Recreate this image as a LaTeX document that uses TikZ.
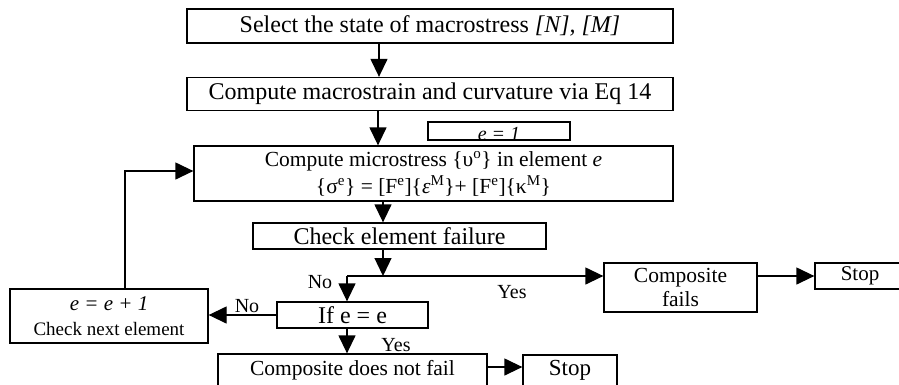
\documentclass[tikz,border=0pt]{standalone}
\usepackage{fontspec}
\setmainfont{Liberation Serif}
\usetikzlibrary{arrows.meta}
\begin{document}
\begin{tikzpicture}[x=1pt,y=-1pt,
  box/.style={draw, line width=1.3pt, inner sep=0pt, align=center, font=\fontsize{24}{26}\selectfont},
  arr/.style={line width=1.3pt, -{Triangle[length=18pt,width=17pt]}},
  ln/.style={line width=1.3pt},
  lbl/.style={font=\fontsize{20}{22}\selectfont, inner sep=0pt}]
\useasboundingbox (0,0) rectangle (899,384);
% boxes
\node[box, minimum width=486pt, minimum height=34pt] (b1) at (430,26) {Select the state of macrostress \textit{[N], [M]}};
\node[box, minimum width=486pt, minimum height=33pt] (b2) at (430,94) {Compute macrostrain and curvature via Eq 14};
\node[box, minimum width=142pt, minimum height=18pt, font=\fontsize{20}{22}\selectfont] (e1) at (499,131) {};
\begin{scope}
  \clip (e1.north west) rectangle (e1.south east);
  \node[inner sep=0pt, font=\fontsize{20}{22}\selectfont, anchor=base] (e1t) at (499,140) {\textit{e = 1}};
\end{scope}
\node[box, minimum width=142pt, minimum height=18pt] (e1b) at (e1) {};
\node[box, minimum width=479pt, minimum height=55pt, font=\fontsize{21.5}{27}\selectfont] (b3) at (433.5,173.5)
  {Compute microstress \{υ\textsuperscript{o}\} in element \textit{e}\\
   \{σ\textsuperscript{e}\} = [F\textsuperscript{e}]\{\textit{ε}\textsuperscript{M}\}+ [F\textsuperscript{e}]\{κ\textsuperscript{M}\}};
\node[box, minimum width=293pt, minimum height=26pt] (b4) at (399.5,236) {Check element failure};
\node[box, minimum width=153pt, minimum height=49pt, font=\fontsize{21.5}{24}\selectfont] (cf) at (680.5,287.5) {Composite\\fails};
\node[box, minimum width=90pt, minimum height=26pt, font=\fontsize{21}{24}\selectfont] (s1) at (860,276) {Stop};
\node[box, minimum width=151pt, minimum height=26pt] (if) at (352.5,315) {If e = e};
\node[box, minimum width=198pt, minimum height=54pt] (ee) at (109,316)
  {{\fontsize{21}{22}\selectfont\textit{e = e + 1}}\\[-1pt]{\fontsize{19}{20}\selectfont Check next element}};
\node[box, minimum width=269pt, minimum height=32pt, font=\fontsize{21.5}{24}\selectfont] (cd) at (352.5,370) {Composite does not fail};
\node[box, minimum width=94pt, minimum height=31pt, font=\fontsize{23}{24}\selectfont] (s2) at (570,370.5) {Stop};
% helper coordinates
\coordinate (xa) at (379,0);
\coordinate (xb) at (378,0);
\coordinate (xc) at (383,0);
\coordinate (j) at (383,276);
\coordinate (k) at (347,276);
\coordinate (xk) at (347,0);
\coordinate (up) at (125,171);
\coordinate (y1) at (0,276);
\coordinate (y2) at (0,367);
% connectors
\draw[arr] (b1.south -| xa) -- (b2.north -| xa);
\draw[arr] (b2.south -| xb) -- (b3.north -| xb);
\draw[arr] (b3.south -| xc) -- (b4.north -| xc);
\draw[arr] (b4.south -| xc) -- (j);
\draw[arr] (k) -- (cf.west |- y1);
\draw[arr] (k) -- (if.north -| xk);
\draw[arr] (cf.east |- y1) -- (s1.west |- y1);
\draw[arr] (if.west) -- (ee.east |- if.west);
\draw[arr] (ee.north -| up) -- (up) -- (b3.west |- up);
\draw[arr] (if.south -| xk) -- (cd.north -| xk);
\draw[arr] (cd.east |- y2) -- (s2.west |- y2);
% labels
\node[lbl] (no1) at (320,282) {No};
\node[lbl] (yes1) at (512,292) {Yes};
\node[lbl] (no2) at (247,306) {No};
\node[lbl] (yes2) at (396,345) {Yes};
\end{tikzpicture}
\end{document}
